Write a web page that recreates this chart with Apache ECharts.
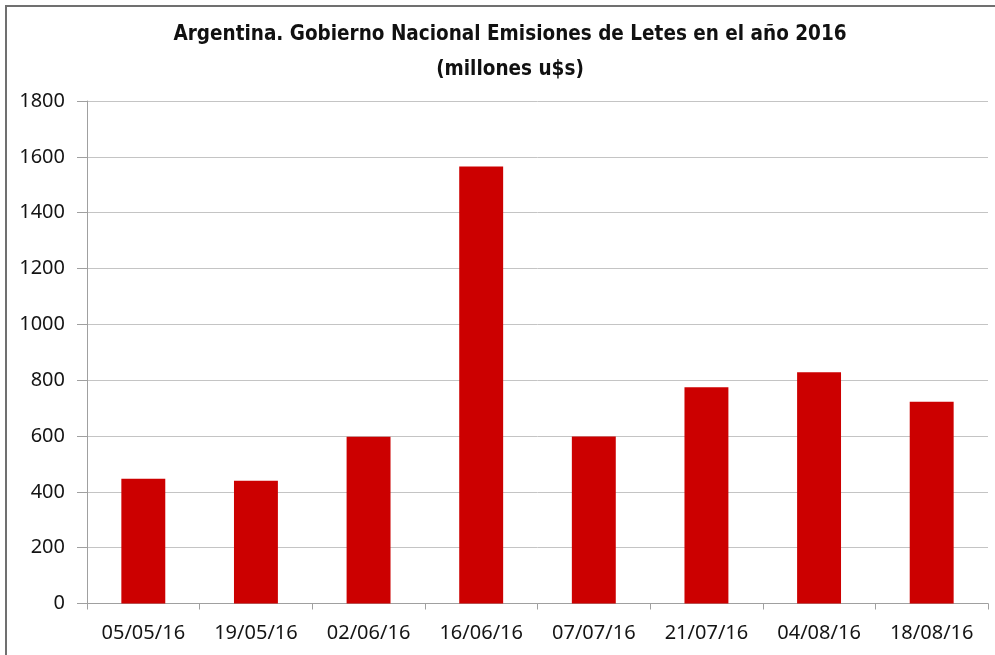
<!DOCTYPE html>
<html>
<head>
<meta charset="utf-8">
<script src="https://cdn.jsdelivr.net/npm/echarts@6/dist/echarts.min.js"></script>
<style>
html,body{margin:0;padding:0;background:#fff;overflow:hidden;}
#chart{width:995px;height:655px;position:absolute;left:0;top:0;}
#frame{position:absolute;left:5px;top:5px;width:990px;height:650px;border-left:2px solid #707070;border-top:2px solid #707070;box-sizing:border-box;pointer-events:none;}
</style>
</head>
<body>
<div id="chart"></div>
<div id="frame"></div>
<script>
const titleText = "Argentina. Gobierno Nacional Emisiones de Letes en el año 2016\n(millones u$s)";
const categories = ["05/05/16","19/05/16","02/06/16","16/06/16","07/07/16","21/07/16","04/08/16","18/08/16"];
const values = [447, 440, 597, 1565, 598, 775, 828, 723];
const yTicks = { min: 0, max: 1800, interval: 200 };

const labelFont = "'Noto Sans','DejaVu Sans',sans-serif";
const chart = echarts.init(document.getElementById('chart'), null, {renderer:'canvas'});
chart.setOption({
  backgroundColor: '#ffffff',
  animation: false,
  title: {
    text: titleText,
    left: 505,
    textAlign: 'center',
    top: 12,
    textStyle: {
      fontFamily: "'DejaVu Sans Condensed','DejaVu Sans',sans-serif",
      fontWeight: 'bold',
      fontSize: 20.5,
      lineHeight: 35,
      color: '#111111'
    }
  },
  grid: { left: 87, right: 7, top: 101, bottom: 51.5 },
  xAxis: {
    type: 'category',
    data: categories,
    axisLine: { lineStyle: { color: '#a0a0a0', width: 1 } },
    axisTick: { show: true, alignWithLabel: false, interval: 0, length: 6, lineStyle: { color: '#a0a0a0' } },
    axisLabel: { interval: 0, fontFamily: labelFont, fontSize: 20, color: '#141414', margin: 20 },
    splitLine: { show: false }
  },
  yAxis: {
    type: 'value',
    min: yTicks.min, max: yTicks.max, interval: yTicks.interval,
    axisLine: { show: true, lineStyle: { color: '#a0a0a0', width: 1 } },
    axisTick: { show: true, length: 10, lineStyle: { color: '#a0a0a0' } },
    axisLabel: { fontFamily: labelFont, fontSize: 20, color: '#141414', margin: 22,
      formatter: function (v) { return String(v); } },
    splitLine: { show: true, lineStyle: { color: '#c4c4c4', width: 1 } }
  },
  series: [{
    type: 'bar',
    data: values,
    barWidth: '39%',
    itemStyle: { color: '#cc0000' }
  }]
});
</script>
</body>
</html>
